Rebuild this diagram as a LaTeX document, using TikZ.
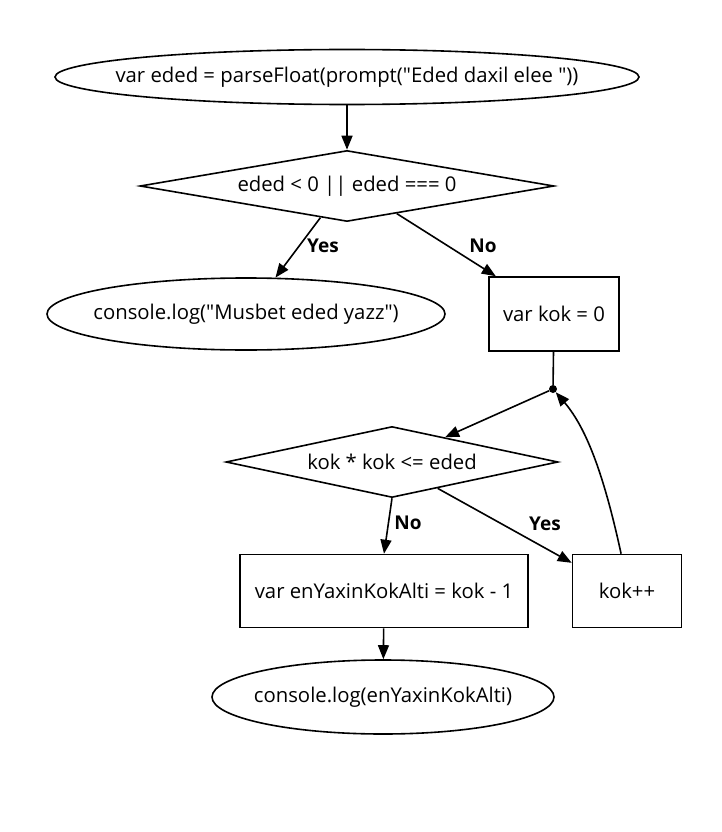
\documentclass[tikz,border=0pt]{standalone}
\usepackage{fontspec}
\setmainfont{Open Sans}[Ligatures=TeXOff]
\usetikzlibrary{shapes.geometric,arrows.meta}
\tikzset{
  every node/.style={font=\fontsize{20.3pt}{24pt}\selectfont, text=black},
  term/.style={draw, line width=1.6pt, ellipse, inner sep=0pt},
  decision/.style={draw, line width=1.6pt, diamond, inner sep=0pt},
  procbox/.style={draw, line width=1.6pt, rectangle, inner sep=0pt},
  lbl/.style={font=\fontsize{19pt}{23pt}\selectfont\bfseries},
  flow/.style={line width=1.6pt, -{Triangle[length=14pt,width=11pt]}},
  plain/.style={line width=1.6pt},
}
\newcommand\zb[1]{\makebox[0pt]{#1}}
\begin{document}
\begin{tikzpicture}[x=1pt,y=-1pt]
\useasboundingbox (0,0) rectangle (722,832);
\node[term, minimum width=584pt, minimum height=55pt] (start) at (347,77) {\zb{var eded = parseFloat(prompt("Eded daxil elee "))}};
\node[decision, aspect=5.83, minimum width=414pt, minimum height=71pt] (d1) at (347,186) {\zb{eded < 0 || eded === 0}};
\node[term, minimum width=398pt, minimum height=72pt] (musbet) at (246,314) {\zb{console.log("Musbet eded yazz")}};
\node[procbox, minimum width=130pt, minimum height=74pt] (kok) at (554,314) {var kok = 0};
\node[circle, fill=black, inner sep=0pt, minimum size=8pt] (dot) at (553,389) {};
\node[decision, aspect=4.68, minimum width=332pt, minimum height=71pt] (d2) at (392,462) {\zb{kok * kok <= eded}};
\node[procbox, minimum width=288pt, minimum height=73pt] (en) at (384,591) {var enYaxinKokAlti = kok - 1};
\node[procbox, minimum width=109pt, minimum height=73pt] (kp) at (627,591) {kok++};
\node[term, minimum width=342pt, minimum height=74pt] (out) at (383,697) {\zb{console.log(enYaxinKokAlti)}};

\draw[flow] (start) -- (d1);
\draw[flow] (d1.-130) -- (musbet.51);
\draw[flow] (d1.-29) -- (kok.147);
\draw[plain] (kok) -- (dot);
\draw[flow] (dot) -- (d2.25);
\draw[flow] (d2.south) -- (en.north);
\draw[flow] (d2.-30) -- (kp.153);
\draw[flow] (kp.99) .. controls (605,480) and (588,430) .. (dot);
\draw[flow] (en) -- (out);

\node[lbl] (yes1) at (323,246) {Yes};
\node[lbl] (no1) at (483,246) {No};
\node[lbl] (no2) at (408,523) {No};
\node[lbl] (yes2) at (545,524) {Yes};
\end{tikzpicture}
\end{document}
